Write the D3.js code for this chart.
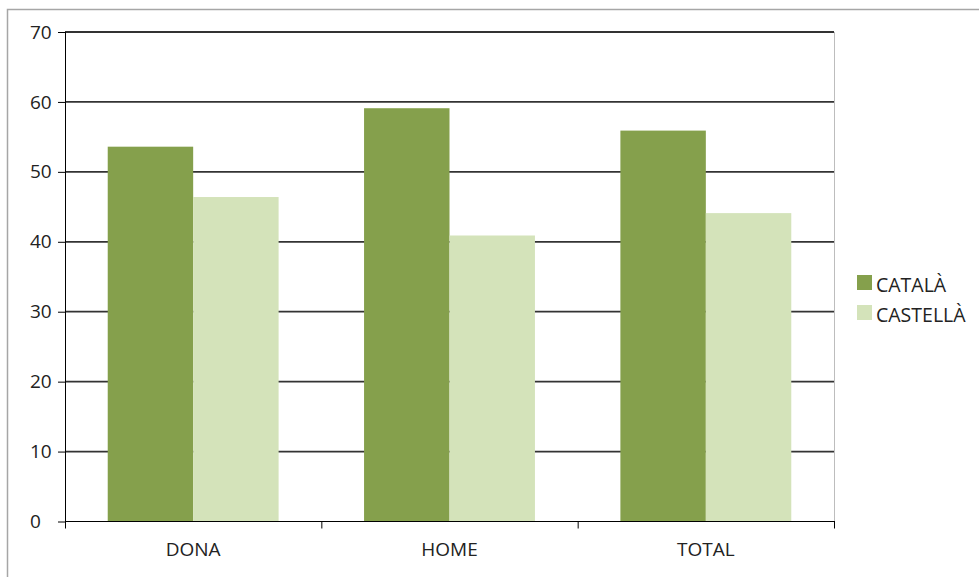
<!DOCTYPE html>
<html>
<head>
<meta charset="utf-8">
<script src="https://cdn.jsdelivr.net/npm/d3@7"></script>
<style>
  html, body { margin: 0; padding: 0; background: #fff; }
  svg { display: block; }
  text { font-family: "Open Sans", "DejaVu Sans", sans-serif; fill: #222; }
</style>
</head>
<body>
<svg id="chart" width="979" height="577"></svg>
<script>
// Share of each language by group (%)
const categories = ["DONA", "HOME", "TOTAL"];
const seriesNames = ["CATALÀ", "CASTELLÀ"];
const catalaValues = [53.6, 59.1, 55.9];
const castellaValues = [46.4, 40.9, 44.1];
const yTicks = [0, 10, 20, 30, 40, 50, 60, 70];

const colors = ["#85a04c", "#d4e3ba"];
const seriesValues = [catalaValues, castellaValues];

const svg = d3.select("#chart");
const plot = { left: 65, right: 834, top: 32, bottom: 521.5 };

// Outer chart frame
svg.append("rect")
  .attr("x", 7.5).attr("y", 9.5)
  .attr("width", 1000).attr("height", 600)
  .attr("fill", "none").attr("stroke", "#a6a6a6").attr("stroke-width", 1.5);

const x = d3.scaleBand().domain(categories).range([plot.left, plot.right]);
const xInner = d3.scaleBand().domain(seriesNames)
  .range([0, x.bandwidth()]).paddingOuter(0.5).paddingInner(0);
const y = d3.scaleLinear().domain([0, 70]).range([plot.bottom, plot.top]);

// Right edge of plot area
svg.append("line")
  .attr("x1", plot.right + 0.5).attr("x2", plot.right + 0.5)
  .attr("y1", plot.top).attr("y2", plot.bottom)
  .attr("stroke", "#bdbdbd").attr("stroke-width", 1);

// Horizontal gridlines
svg.append("g").selectAll("line")
  .data(yTicks.filter(d => d > 0))
  .join("line")
  .attr("x1", plot.left).attr("x2", plot.right)
  .attr("y1", d => y(d)).attr("y2", d => y(d))
  .attr("stroke", "#333").attr("stroke-width", 1.8);

// Bars
const groups = svg.append("g").selectAll("g")
  .data(categories)
  .join("g")
  .attr("transform", d => `translate(${x(d)},0)`);

groups.selectAll("rect")
  .data((c, i) => seriesNames.map((s, j) => ({ s, j, v: seriesValues[j][i] })))
  .join("rect")
  .attr("x", d => xInner(d.s))
  .attr("width", xInner.bandwidth())
  .attr("y", d => y(d.v))
  .attr("height", d => y(0) - y(d.v))
  .attr("fill", d => colors[d.j]);

// Y axis
const yAxis = d3.axisLeft(y).tickValues(yTicks).tickSize(7).tickFormat(d3.format("d"));
const yg = svg.append("g").attr("transform", `translate(${plot.left},0)`).call(yAxis);
yg.select(".domain").attr("stroke", "#000").attr("d", `M0.5,${plot.top}V${plot.bottom}`);
yg.selectAll(".tick line").attr("stroke", "#000").attr("x1", 0);
yg.selectAll(".tick text")
  .attr("x", -35).attr("text-anchor", "start")
  .attr("font-size", 19).attr("fill", "#222")
  .attr("font-family", "\"Open Sans\", sans-serif");

// X axis with ticks at category boundaries
const xg = svg.append("g").attr("transform", `translate(0,${plot.bottom})`);
xg.append("line")
  .attr("x1", plot.left).attr("x2", plot.right + 1)
  .attr("stroke", "#000").attr("stroke-width", 1.2);
const boundaries = categories.map(c => x(c)).concat([plot.right]);
xg.selectAll(".bt").data(boundaries).join("line")
  .attr("class", "bt")
  .attr("x1", d => d + 0.5).attr("x2", d => d + 0.5)
  .attr("y1", 0).attr("y2", 7)
  .attr("stroke", "#000");
xg.selectAll(".cl").data(categories).join("text")
  .attr("class", "cl")
  .attr("x", d => x(d) + x.bandwidth() / 2)
  .attr("y", 34.5)
  .attr("text-anchor", "middle")
  .attr("font-size", 19)
  .text(d => d);

// Legend
const legend = svg.append("g").attr("transform", "translate(857,275)");
const li = legend.selectAll("g").data(seriesNames).join("g")
  .attr("transform", (d, i) => `translate(0,${i * 30})`);
li.append("rect")
  .attr("width", 15).attr("height", 15)
  .attr("fill", (d, i) => colors[i]);
li.append("text")
  .attr("x", 19).attr("y", 16.5)
  .attr("font-size", 19.5)
  .text(d => d);
</script>
</body>
</html>
